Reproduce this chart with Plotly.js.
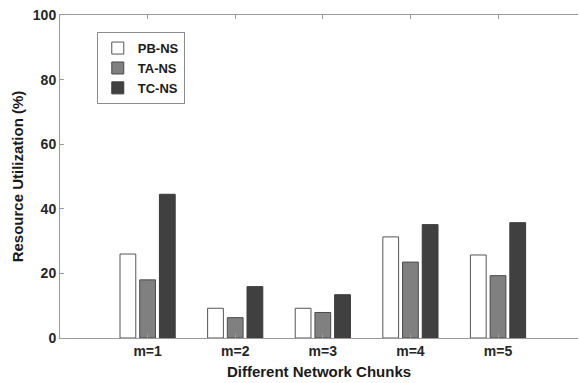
<!DOCTYPE html>
<html>
<head>
<meta charset="utf-8">
<script src="https://cdn.plot.ly/plotly-3.0.1.min.js"></script>
<style>html,body{margin:0;padding:0;background:#fff;}#chart{width:579px;height:383px;}</style>
</head>
<body>
<div id="chart"></div>
<script>
var categories = [1, 2, 3, 4, 5];
var tickLabels = ["m=1", "m=2", "m=3", "m=4", "m=5"];
var seriesNames = ["PB-NS", "TA-NS", "TC-NS"];
var pbValues = [26.0, 9.2, 9.2, 31.3, 25.7];
var taValues = [18.0, 6.3, 7.9, 23.5, 19.3];
var tcValues = [44.5, 15.9, 13.4, 35.1, 35.7];

var fills = ["#ffffff", "#808080", "#404040"];
var edges = ["#555555", "#4a4a4a", "#3a3a3a"];
var allValues = [pbValues, taValues, tcValues];

var traces = allValues.map(function (vals, i) {
  return {
    type: "bar",
    name: seriesNames[i],
    x: categories,
    y: vals,
    marker: { color: fills[i], line: { color: edges[i], width: 1 } },
    hoverinfo: "skip"
  };
});

var font = "Liberation Sans, Arial, Helvetica, sans-serif";
var layout = {
  width: 579,
  height: 383,
  margin: { l: 60, r: 1, t: 15, b: 45 },
  paper_bgcolor: "#ffffff",
  plot_bgcolor: "#ffffff",
  barmode: "group",
  bargap: 0.325,
  bargroupgap: 0.2,
  showlegend: true,
  legend: {
    x: 0.071, y: 0.947, xanchor: "left", yanchor: "top",
    bgcolor: "#ffffff", bordercolor: "#8c8c8c", borderwidth: 1,
    font: { family: font, size: 13, color: "#1a1a1a", weight: "bold" },
    tracegroupgap: 0, itemwidth: 30
  },
  xaxis: {
    range: [0, 5.913],
    tickvals: categories,
    ticktext: tickLabels,
    showline: true, linecolor: "#9a9a9a", linewidth: 1,
    mirror: "ticks",
    ticks: "inside", ticklen: 4, tickcolor: "#9a9a9a",
    showgrid: false, zeroline: false,
    tickfont: { family: font, size: 14, color: "#262626", weight: "bold" },
    title: { text: "Different Network Chunks", standoff: 8,
             font: { family: font, size: 15, color: "#1a1a1a", weight: "bold" } }
  },
  yaxis: {
    range: [0, 100],
    tickvals: [0, 20, 40, 60, 80, 100],
    showline: true, linecolor: "#9a9a9a", linewidth: 1,
    mirror: false,
    ticks: "inside", ticklen: 4, tickcolor: "#9a9a9a",
    showgrid: false, zeroline: false,
    tickfont: { family: font, size: 14, color: "#262626", weight: "bold" },
    title: { text: "Resource Utilization (%)", standoff: 5,
             font: { family: font, size: 15, color: "#1a1a1a", weight: "bold" } }
  }
};

Plotly.newPlot("chart", traces, layout, { staticPlot: true, displayModeBar: false });
</script>
</body>
</html>
